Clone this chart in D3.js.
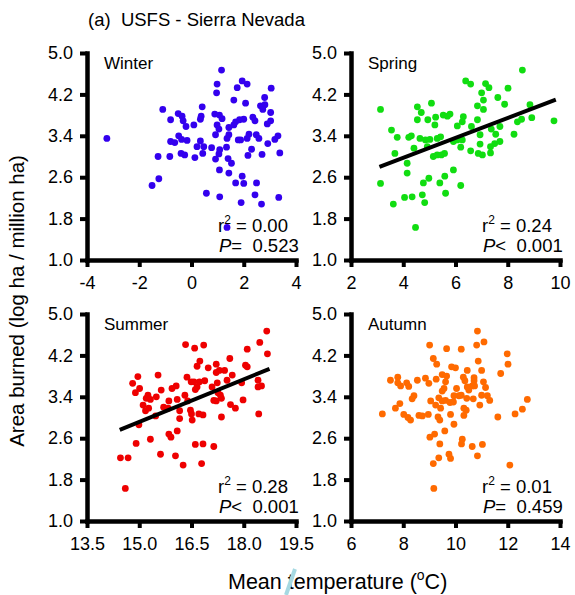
<!DOCTYPE html>
<html>
<head>
<meta charset="utf-8">
<script src="https://cdn.jsdelivr.net/npm/d3@7"></script>
<style>
  body { margin: 0; background: #fff; }
  text { font-family: Arial, "Liberation Sans", sans-serif; fill: #000; }
</style>
</head>
<body>
<script>
// values: [mean temperature, log area burned]
var winterPts = [[-3.24,3.35],[-1.10,3.91],[-0.80,3.71],[-0.51,3.83],[-0.36,3.78],[-0.32,3.69],[-0.21,3.58],[-0.49,3.40],[-0.38,3.33],[-0.17,3.31],[-0.80,3.29],[-0.64,3.27],[-0.40,3.06],[-0.26,3.03],[-1.28,3.00],[-0.83,3.00],[-1.25,2.57],[-1.51,2.44],
  [1.15,4.67],[0.98,4.40],[0.96,4.23],[1.94,4.46],[2.13,4.40],[1.75,4.33],[3.05,4.32],[1.62,4.09],[2.07,4.03],[2.80,4.14],[2.64,3.98],[2.81,4.00],[2.73,3.91],[3.03,3.85],[0.41,3.96],[0.37,3.78],[0.34,3.72],[0.89,3.82],[1.07,3.80],[1.17,3.73],[0.09,3.61],[0.98,3.61],[1.05,3.53],[0.92,3.42],[1.43,3.56],[1.62,3.61],[1.69,3.67],[1.84,3.71],[2.00,3.72],[2.35,3.76],[2.43,3.69],[2.90,3.63],[3.03,3.69],[1.43,3.42],[1.36,3.35],[1.79,3.32],[1.88,3.32],[2.13,3.35],[2.20,3.43],[2.48,3.42],[2.58,3.35],[3.19,3.33],[3.31,3.40],[0.34,3.30],[0.47,3.19],[0.21,3.19],[0.77,3.17],[1.08,3.13],[1.34,3.18],[1.05,3.05],[0.43,3.06],[0.13,2.98],[0.92,2.95],[1.40,2.96],[2.16,3.02],[2.30,3.14],[2.70,3.04],[2.92,3.25],[3.38,3.07],[1.53,2.87],[1.07,2.74],[1.43,2.68],[1.94,2.62],[1.69,2.49],[2.00,2.48],[2.49,2.49],[0.57,2.29],[1.08,2.22],[2.43,2.26],[3.34,2.21],[1.90,2.11],[2.68,2.08],[1.36,1.63]];

var springPts = [[3.13,3.91],[3.13,2.48],[3.55,3.51],[3.77,3.37],[3.68,3.06],[3.62,2.08],[4.05,2.21],[4.34,2.22],[4.73,2.26],[4.82,2.11],[4.47,1.63],[4.15,2.87],[4.15,2.68],[4.21,3.37],[4.31,3.40],[4.41,3.16],[4.64,3.35],[4.54,3.96],[4.69,3.85],[4.54,3.71],[4.94,3.71],[4.85,3.32],[4.77,2.49],[4.98,2.58],[5.08,4.03],[4.92,3.19],
  [8.56,4.67],[6.39,4.46],[6.58,4.40],[7.15,4.41],[7.28,4.33],[8.01,4.32],[7.00,4.23],[7.07,4.09],[7.62,4.14],[7.88,4.01],[6.84,3.98],[7.07,3.91],[5.24,3.76],[5.21,3.61],[5.53,3.80],[5.79,3.82],[5.69,3.78],[6.30,3.77],[6.26,3.67],[6.07,3.59],[6.84,3.71],[6.61,3.58],[7.37,3.53],[7.70,3.58],[7.54,3.43],[8.24,3.43],[8.37,3.67],[8.53,3.72],[8.92,3.75],[8.85,4.00],[9.77,3.69],[5.02,3.33],[5.30,3.35],[5.43,3.38],[5.92,3.29],[6.07,3.32],[6.26,3.32],[6.20,3.18],[6.94,3.42],[6.94,3.24],[7.50,3.25],[7.70,3.29],[7.34,3.19],[6.58,3.11],[6.87,3.06],[7.03,3.03],[7.34,3.07],[5.15,3.00],[5.30,3.03],[5.46,3.03],[5.58,3.06],[5.92,2.74],[5.59,2.62],[5.40,2.49],[6.20,2.44],[5.62,2.29]];

var summerPts = [[14.46,2.22],[14.68,2.22],[14.60,1.63],[14.91,2.50],[14.81,3.66],[14.96,3.79],[14.89,3.48],[15.01,3.56],[14.99,2.86],[15.11,3.24],[15.20,3.37],[15.25,3.43],[15.32,3.35],[15.27,3.18],[15.18,3.13],[15.32,2.58],[15.54,3.82],[15.63,3.53],[15.49,3.40],[15.47,3.03],[15.61,2.29],[15.70,3.20],[15.85,3.32],[15.83,3.18],[15.94,3.56],[16.06,3.61],[15.85,2.68],[15.91,2.62],[16.16,3.13],[16.09,2.74],[16.04,2.26],[16.26,2.08],[16.09,3.35],[16.33,4.41],[16.37,3.78],[16.31,3.43],[16.39,3.32],
  [16.59,4.34],[16.85,4.40],[18.66,4.67],[18.46,4.45],[18.10,4.32],[18.68,4.23],[16.74,4.09],[16.66,3.99],[16.98,3.96],[17.21,4.03],[17.60,4.14],[18.05,4.01],[18.10,3.98],[17.30,3.91],[17.45,3.91],[17.21,3.87],[17.67,3.82],[16.49,3.69],[16.57,3.69],[16.73,3.69],[16.88,3.71],[16.66,3.59],[16.61,3.54],[17.24,3.67],[17.52,3.72],[17.94,3.67],[18.41,3.72],[18.41,3.59],[18.51,3.61],[17.09,3.59],[17.26,3.48],[17.33,3.43],[17.14,3.33],[17.21,3.32],[17.36,3.37],[17.98,3.34],[17.62,3.25],[17.76,3.18],[16.47,3.14],[16.50,3.07],[16.71,3.07],[16.83,3.05],[17.36,3.01],[18.43,3.07],[16.52,2.95],[16.16,2.98],[16.61,2.48],[16.83,2.49],[17.14,2.44],[16.79,2.11]];

var autumnPts = [[7.20,3.07],[7.51,3.72],[7.79,3.78],[7.79,3.67],[7.90,3.61],[8.13,3.67],[8.21,3.60],[8.54,3.72],[8.85,3.76],[8.98,3.66],[9.01,4.40],[8.41,3.42],[8.34,3.36],[7.87,3.27],[7.70,3.18],[8.02,3.06],[8.18,3.00],[8.28,2.95],[8.60,3.04],[8.73,3.03],[8.96,3.06],[9.02,2.62],[9.05,3.32],
  [10.84,4.67],[10.81,4.40],[11.09,4.46],[9.66,4.33],[10.22,4.32],[11.98,4.23],[12.01,4.03],[11.73,3.85],[9.15,4.14],[9.28,4.03],[9.85,3.98],[10.00,3.96],[10.87,4.09],[11.00,3.91],[10.45,3.91],[9.49,3.83],[9.66,3.80],[9.26,3.74],[9.62,3.69],[10.30,3.78],[10.36,3.71],[10.71,3.77],[10.71,3.71],[11.07,3.69],[10.73,3.61],[10.64,3.61],[10.45,3.59],[11.15,3.58],[9.56,3.56],[9.49,3.51],[10.04,3.56],[10.13,3.42],[10.22,3.43],[10.43,3.37],[10.51,3.53],[10.68,3.36],[11.00,3.43],[11.22,3.42],[11.31,3.33],[9.94,3.42],[9.36,3.38],[9.49,3.32],[9.62,3.33],[9.79,3.29],[9.92,3.30],[9.24,3.24],[9.43,3.18],[10.32,3.18],[10.41,3.14],[10.93,3.24],[12.75,3.35],[12.56,3.16],[12.28,3.07],[11.62,3.01],[9.33,3.01],[9.40,2.95],[9.81,3.06],[10.32,3.04],[9.94,2.87],[9.59,2.74],[9.20,2.68],[9.40,2.49],[10.26,2.58],[10.23,2.49],[10.64,2.44],[11.03,2.48],[9.36,2.22],[9.75,2.29],[9.81,2.21],[9.15,2.11],[10.84,2.26],[12.08,2.08],[9.17,1.63]];

// fitted lines (end points)
var springFit = [[3.09,2.80],[9.84,4.10]];
var summerFit = [[14.44,2.76],[18.74,3.94]];

// axis ticks
var yTicks = [1.0, 1.8, 2.6, 3.4, 4.2, 5.0];
var winterTicks = [-4, -2, 0, 2, 4];
var springTicks = [2, 4, 6, 8, 10];
var summerTicks = [13.5, 15.0, 16.5, 18.0, 19.5];
var autumnTicks = [6, 8, 10, 12, 14];

var seasons = ['Winter', 'Spring', 'Summer', 'Autumn'];
var r2Labels = ['0.00', '0.24', '0.28', '0.01'];
var pLabels = ['=  0.523', '<  0.001', '<  0.001', '=  0.459'];

var panels = [
  {pts: winterPts, fit: null, ticks: winterTicks, fmt: function(d){ return String(d); }, color: '#3300ee', col: 0, row: 0},
  {pts: springPts, fit: springFit, ticks: springTicks, fmt: function(d){ return String(d); }, color: '#11dd11', col: 1, row: 0},
  {pts: summerPts, fit: summerFit, ticks: summerTicks, fmt: d3.format('.1f'), color: '#ee0000', col: 0, row: 1},
  {pts: autumnPts, fit: null, ticks: autumnTicks, fmt: function(d){ return String(d); }, color: '#ff6a00', col: 1, row: 1}
];

var W = 575, H = 595;
var colLeft = [87, 351], rowTop = [53, 314];
var pw = 209, ph = 207;

var svg = d3.select('body').append('svg')
  .attr('width', W)
  .attr('height', H);

panels.forEach(function(p, i) {
  var x = d3.scaleLinear()
    .domain([p.ticks[0], p.ticks[p.ticks.length - 1]])
    .range([0, pw]);
  var y = d3.scaleLinear()
    .domain([1, 5])
    .range([ph, 0]);

  var g = svg.append('g')
    .attr('transform', 'translate(' + colLeft[p.col] + ',' + rowTop[p.row] + ')');

  g.selectAll('circle')
    .data(p.pts)
    .enter()
    .append('circle')
    .attr('cx', function(d) { return x(d[0]); })
    .attr('cy', function(d) { return y(d[1]); })
    .attr('r', 3.4)
    .attr('fill', p.color);

  if (p.fit) {
    g.append('path')
      .datum(p.fit)
      .attr('d', d3.line().x(function(d) { return x(d[0]); }).y(function(d) { return y(d[1]); }))
      .attr('stroke', '#000')
      .attr('stroke-width', 4)
      .attr('fill', 'none');
  }

  var gx = g.append('g')
    .attr('transform', 'translate(0,' + ph + ')')
    .call(d3.axisBottom(x).tickValues(p.ticks).tickFormat(p.fmt).tickSize(7).tickSizeOuter(0));
  var gy = g.append('g')
    .call(d3.axisLeft(y).tickValues(yTicks).tickFormat(d3.format('.1f')).tickSize(7).tickSizeOuter(0));

  [gx, gy].forEach(function(a) {
    a.select('.domain').attr('stroke', '#000').attr('stroke-width', 4.5).attr('stroke-linecap', 'square');
    a.selectAll('.tick line').attr('stroke', '#000').attr('stroke-width', 4);
    a.selectAll('.tick text').attr('font-size', 18).attr('font-family', 'Arial, "Liberation Sans", sans-serif').attr('fill', '#000');
  });
  gx.selectAll('.tick text').attr('y', 16);
  gy.selectAll('.tick text').attr('x', -14);

  g.append('text')
    .attr('x', 17)
    .attr('y', 16)
    .attr('font-size', 17)
    .text(seasons[i]);

  var r2 = g.append('text')
    .attr('x', pw - 78)
    .attr('y', ph - 28)
    .attr('font-size', 18.5);
  r2.append('tspan').text('r');
  r2.append('tspan').attr('dy', -8).attr('font-size', 12).text('2');
  r2.append('tspan').attr('dy', 8).text(' = ' + r2Labels[i]);

  var pt = g.append('text')
    .attr('x', pw - 77)
    .attr('y', ph - 8)
    .attr('font-size', 18.5)
    .style('white-space', 'pre');
  pt.append('tspan').attr('font-style', 'italic').text('P');
  pt.append('tspan').text(pLabels[i]);
});

svg.append('text')
  .attr('x', 88)
  .attr('y', 26)
  .attr('font-size', 18.5)
  .style('white-space', 'pre')
  .text('(a)  USFS - Sierra Nevada');

svg.append('text')
  .attr('transform', 'translate(24,301) rotate(-90)')
  .attr('text-anchor', 'middle')
  .attr('font-size', 20.5)
  .text('Area burned (log ha / million ha)');

var xt = svg.append('text')
  .attr('x', 228)
  .attr('y', 589)
  .attr('font-size', 21.5);
xt.append('tspan').text('Mean temperature (');
xt.append('tspan').attr('dy', -9).attr('font-size', 14).text('o');
xt.append('tspan').attr('dy', 9).text('C)');

// light blue stroke across the axis title in the original
svg.append('line')
  .attr('x1', 286).attr('y1', 595)
  .attr('x2', 295).attr('y2', 569)
  .attr('stroke', '#a6d9e2')
  .attr('stroke-width', 4);
</script>
</body>
</html>
